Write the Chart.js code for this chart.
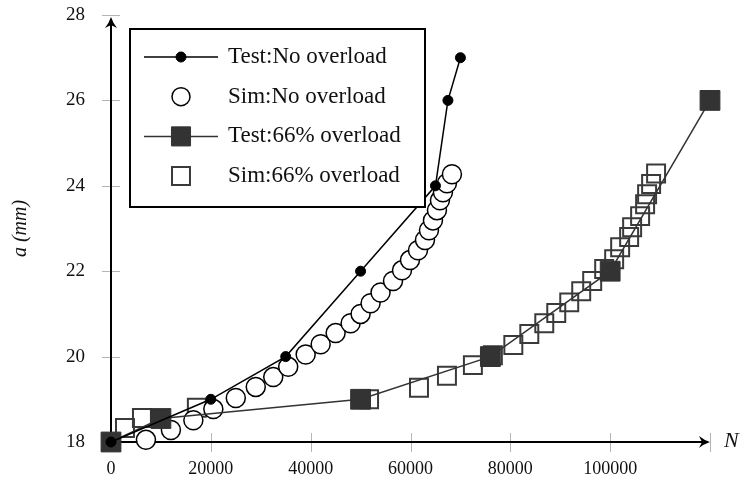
<!DOCTYPE html>
<html>
<head>
<meta charset="utf-8">
<script src="https://cdn.jsdelivr.net/npm/chart.js@4/dist/chart.umd.min.js"></script>
<style>
  html, body { margin: 0; padding: 0; background: #fff; }
  #wrap { width: 744px; height: 488px; }
</style>
</head>
<body>
<div id="wrap"><canvas id="crackChart" width="744" height="488"></canvas></div>
<script>
// crack length a (mm) against cycles N
const testNoN = [0, 20000, 35000, 50000, 65000, 67500, 70000];
const testNoA = [18, 19, 20, 22, 24, 26, 27];

const simNoN = [7000, 12000, 16500, 20500, 25000, 29000, 32500, 35500, 39000, 42000, 45000, 48000, 50000, 52000,
    54000, 56500, 58300, 59900, 61500, 62900, 63700, 64500, 65300, 65900, 66500, 67300, 68300];
const simNoA = [18.05, 18.28, 18.51, 18.77, 19.03, 19.29, 19.52, 19.76, 20.05, 20.29, 20.55, 20.78, 21.0, 21.25,
    21.5, 21.77, 22.02, 22.26, 22.49, 22.73, 22.96, 23.19, 23.43, 23.66, 23.85, 24.06, 24.27];

const test66N = [0, 10000, 50000, 76000, 100000, 120000];
const test66A = [18, 18.55, 19, 20, 22, 26];

const sim66N = [2800, 6200, 17200, 51700, 61700, 67300, 72500, 76500, 80600, 83800, 86800, 89200, 91800, 94200,
    96400, 98800, 100800, 102000, 103800, 104400, 106000, 107000, 107400, 108200, 109200];
const sim66A = [18.33, 18.56, 18.8, 19.0, 19.27, 19.55, 19.8, 20.03, 20.27, 20.53, 20.78, 21.02, 21.27, 21.53,
    21.77, 22.05, 22.28, 22.56, 22.8, 23.03, 23.29, 23.57, 23.8, 24.04, 24.29];

const xTicks = [0, 20000, 40000, 60000, 80000, 100000, 120000];
const yTicks = [18, 20, 22, 24, 26, 28];

const SERIF = "'Liberation Serif', 'DejaVu Serif', serif";

function toPoints(xs, ys) {
    return xs.map((v, i) => ({ x: v, y: ys[i] }));
}

function stealth(ctx, x, y, dir) {
    // dir: 'right' or 'up'
    ctx.save();
    ctx.translate(x, y);
    if (dir === "up") ctx.rotate(-Math.PI / 2);
    ctx.beginPath();
    ctx.moveTo(0, 0);
    ctx.quadraticCurveTo(-6, -2, -11, -6);
    ctx.lineTo(-8, 0);
    ctx.lineTo(-11, 6);
    ctx.quadraticCurveTo(-6, 2, 0, 0);
    ctx.closePath();
    ctx.fillStyle = "#000";
    ctx.fill();
    ctx.restore();
}

// axes with arrows and crossing tick marks
const axisPlugin = {
    id: "axisPlugin",
    beforeDatasetsDraw(chart) {
        const { ctx, scales: { x, y } } = chart;
        const x0 = x.getPixelForValue(0);
        const y0 = y.getPixelForValue(18);
        ctx.save();
        ctx.strokeStyle = "#b5b5b5";
        ctx.lineWidth = 1;
        x.ticks.forEach(t => {
            const px = Math.round(x.getPixelForValue(t.value)) + 0.5;
            ctx.beginPath(); ctx.moveTo(px, y0 - 9); ctx.lineTo(px, y0 + 10); ctx.stroke();
        });
        y.ticks.forEach(t => {
            const py = Math.round(y.getPixelForValue(t.value)) + 0.5;
            ctx.beginPath(); ctx.moveTo(x0 - 9, py); ctx.lineTo(x0 + 9, py); ctx.stroke();
        });
        ctx.strokeStyle = "#000";
        ctx.lineWidth = 2;
        const xEnd = x.getPixelForValue(120000);
        const yEnd = y.getPixelForValue(28) + 2;
        ctx.beginPath(); ctx.moveTo(x0, y0); ctx.lineTo(xEnd - 6, y0); ctx.stroke();
        ctx.beginPath(); ctx.moveTo(x0, y0); ctx.lineTo(x0, yEnd + 6); ctx.stroke();
        stealth(ctx, xEnd, y0, "right");
        stealth(ctx, x0, yEnd, "up");

        ctx.fillStyle = "#111";
        ctx.font = "italic 22px " + SERIF;
        ctx.textBaseline = "middle";
        ctx.textAlign = "left";
        ctx.fillText("N", xEnd + 14, y0 - 1);
        ctx.restore();
    }
};

// boxed legend inside the plot
const legendPlugin = {
    id: "boxLegend",
    afterDraw(chart) {
        const { ctx, chartArea } = chart;
        const left = chartArea.left + 19, top = chartArea.top + 14;
        const w = 295, h = 178;
        ctx.save();
        ctx.fillStyle = "#fff";
        ctx.fillRect(left, top, w, h);
        ctx.strokeStyle = "#000";
        ctx.lineWidth = 2;
        ctx.strokeRect(left, top, w, h);
        chart.data.datasets.forEach((ds, i) => {
            const cy = top + 28 + i * 39.7;
            if (ds.showLine) {
                ctx.strokeStyle = ds.borderColor;
                ctx.lineWidth = ds.borderWidth;
                ctx.beginPath(); ctx.moveTo(left + 14, cy); ctx.lineTo(left + 88, cy); ctx.stroke();
            }
            ctx.fillStyle = ds.pointBackgroundColor;
            ctx.strokeStyle = ds.pointBorderColor;
            ctx.lineWidth = ds.pointBorderWidth;
            Chart.helpers.drawPoint(ctx, {
                pointStyle: ds.pointStyle,
                radius: ds.legendRadius,
                borderWidth: ds.pointBorderWidth,
                rotation: 0
            }, left + 51, cy);
            ctx.fillStyle = "#111";
            ctx.font = "23px " + SERIF;
            ctx.textBaseline = "middle";
            ctx.textAlign = "left";
            ctx.fillText(ds.label, left + 98, cy);
        });
        ctx.restore();
    }
};

const ctx = document.getElementById("crackChart").getContext("2d");
new Chart(ctx, {
    type: "scatter",
    data: {
        datasets: [
            {
                label: "Test:No overload",
                data: toPoints(testNoN, testNoA),
                showLine: true,
                borderColor: "#000",
                borderWidth: 1.5,
                pointStyle: "circle",
                pointRadius: 5,
                legendRadius: 5,
                pointBackgroundColor: "#000",
                pointBorderColor: "#000",
                pointBorderWidth: 1,
                clip: false,
                order: 0
            },
            {
                label: "Sim:No overload",
                data: toPoints(simNoN, simNoA),
                showLine: false,
                pointStyle: "circle",
                pointRadius: 9.5,
                legendRadius: 9,
                pointBackgroundColor: "#fff",
                pointBorderColor: "#000",
                pointBorderWidth: 1.5,
                clip: false,
                order: 1
            },
            {
                label: "Test:66% overload",
                data: toPoints(test66N, test66A),
                showLine: true,
                borderColor: "#333",
                borderWidth: 1.5,
                pointStyle: "rect",
                pointRadius: 14,
                legendRadius: 13.5,
                pointBackgroundColor: "#333",
                pointBorderColor: "#333",
                pointBorderWidth: 1,
                clip: false,
                order: 0
            },
            {
                label: "Sim:66% overload",
                data: toPoints(sim66N, sim66A),
                showLine: false,
                pointStyle: "rect",
                pointRadius: 12.7,
                legendRadius: 12.7,
                pointBackgroundColor: "rgba(0,0,0,0)",
                pointBorderColor: "#3a3a3a",
                pointBorderWidth: 2,
                clip: false,
                order: 1
            }
        ]
    },
    options: {
        responsive: false,
        animation: false,
        events: [],
        layout: { padding: { left: 0, top: 15, right: 34, bottom: 0 } },
        plugins: {
            legend: { display: false },
            tooltip: { enabled: false }
        },
        scales: {
            x: {
                type: "linear",
                min: 0,
                max: 120000,
                afterBuildTicks: s => { s.ticks = xTicks.map(v => ({ value: v })); },
                grid: { display: false },
                border: { display: false },
                ticks: {
                    padding: 8,
                    color: "#111",
                    maxRotation: 0,
                    autoSkip: false,
                    font: { family: SERIF, size: 18 },
                    callback: v => (v === 120000 ? "" : String(v))
                },
                afterFit: s => { s.height = 46; s.paddingLeft = 0; s.paddingRight = 0; }
            },
            y: {
                min: 18,
                max: 28,
                afterBuildTicks: s => { s.ticks = yTicks.map(v => ({ value: v })); },
                grid: { display: false },
                border: { display: false },
                ticks: {
                    padding: 18,
                    color: "#111",
                    font: { family: SERIF, size: 19 },
                    callback: v => String(v)
                },
                title: {
                    display: true,
                    text: "a (mm)",
                    color: "#111",
                    font: { family: SERIF, size: 20, style: "italic" },
                    padding: { top: 9, bottom: 0 }
                },
                afterFit: s => { s.width = 111; s.paddingTop = 0; s.paddingBottom = 0; }
            }
        }
    },
    plugins: [axisPlugin, legendPlugin]
});
</script>
</body>
</html>
